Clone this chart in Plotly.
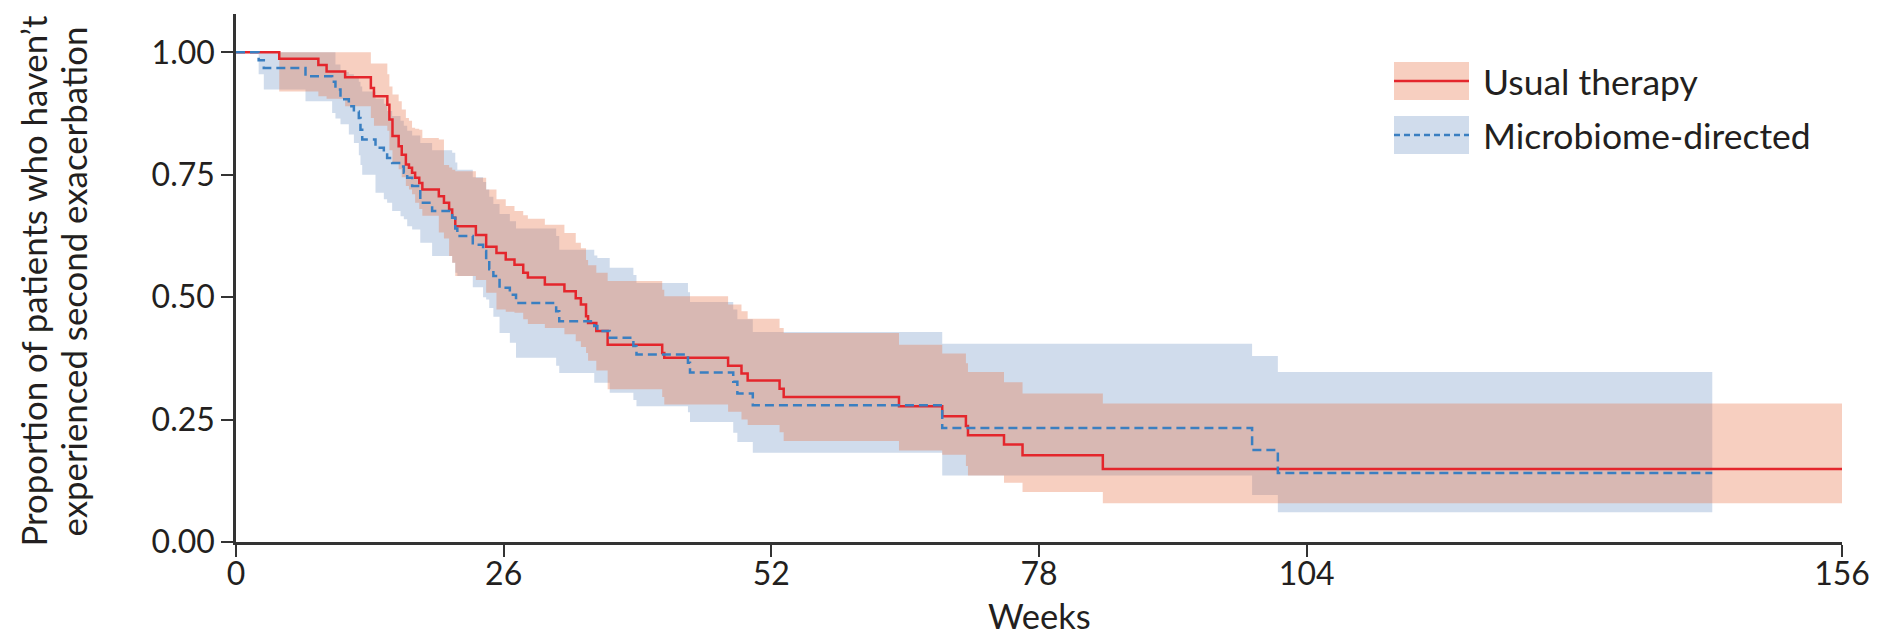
import plotly.graph_objects as go

# ---------------- data ----------------
usual_weeks = [0, 4.2, 8.0, 8.8, 10.6, 13.1, 13.4, 14.7, 14.9, 15.2, 15.8, 16.1, 16.5, 16.8, 17.1,
               17.4, 17.8, 18.1, 19.7, 20.2, 20.7, 21.0, 21.3, 23.3, 24.3, 25.3, 26.2, 27.05, 27.9,
               28.35, 30.0, 31.9, 33.0, 33.5, 34.0, 34.2, 35.0, 36.1, 41.4, 41.6, 47.8, 49.1, 49.7,
               52.8, 53.2, 64.4, 68.6, 70.9, 71.1, 74.6, 76.4, 84.2, 156]
usual_surv = [1.0, 0.987, 0.974, 0.961, 0.949, 0.927, 0.910, 0.893, 0.863, 0.829, 0.808, 0.791, 0.771,
              0.764, 0.754, 0.744, 0.733, 0.720, 0.706, 0.693, 0.679, 0.662, 0.645, 0.627, 0.603, 0.590,
              0.577, 0.566, 0.550, 0.540, 0.526, 0.512, 0.498, 0.485, 0.461, 0.447, 0.431, 0.403, 0.386,
              0.376, 0.360, 0.344, 0.330, 0.313, 0.296, 0.277, 0.257, 0.237, 0.218, 0.199, 0.177, 0.149,
              0.149]
usual_upper = [1.0, 1.0, 1.0, 1.0, 1.0, 0.977, 0.977, 0.955, 0.93, 0.914, 0.90, 0.883, 0.866, 0.86,
               0.846, 0.844, 0.842, 0.825, 0.822, 0.77, 0.765, 0.76, 0.757, 0.744, 0.72, 0.70, 0.686,
               0.676, 0.667, 0.66, 0.648, 0.631, 0.611, 0.60, 0.576, 0.565, 0.55, 0.533, 0.515, 0.502,
               0.485, 0.471, 0.456, 0.437, 0.427, 0.403, 0.385, 0.365, 0.347, 0.326, 0.303, 0.283, 0.283]
usual_lower = [1.0, 0.92, 0.91, 0.905, 0.89, 0.866, 0.85, 0.84, 0.80, 0.775, 0.761, 0.745, 0.727, 0.72,
               0.71, 0.693, 0.68, 0.666, 0.632, 0.62, 0.584, 0.57, 0.543, 0.535, 0.509, 0.475, 0.47,
               0.468, 0.455, 0.445, 0.437, 0.424, 0.41, 0.398, 0.386, 0.37, 0.35, 0.312, 0.296, 0.281,
               0.266, 0.25, 0.239, 0.224, 0.206, 0.187, 0.178, 0.155, 0.136, 0.121, 0.102, 0.079, 0.079]

micro_weeks = [0, 2.2, 2.7, 6.75, 9.34, 9.66, 10.15, 10.96, 11.45, 11.93, 12.09, 12.26, 13.55, 14.36,
               14.68, 15.17, 15.98, 16.30, 16.63, 17.11, 17.9, 19.05, 21.0, 21.3, 21.5, 23.0, 24.0, 24.3,
               24.6, 25.0, 25.6, 26.6, 27.2, 31.1, 31.4, 34.8, 35.1, 36.3, 38.6, 38.9, 43.9, 44.1, 48.3,
               48.7, 50.2, 68.6, 98.7, 101.2, 143.4]
micro_surv = [1.0, 0.984, 0.968, 0.951, 0.94, 0.924, 0.904, 0.890, 0.879, 0.866, 0.842, 0.822, 0.805,
              0.795, 0.784, 0.774, 0.767, 0.754, 0.744, 0.727, 0.693, 0.676, 0.662, 0.64, 0.625, 0.607,
              0.594, 0.574, 0.557, 0.543, 0.519, 0.505, 0.488, 0.471, 0.451, 0.441, 0.431, 0.417, 0.400,
              0.383, 0.366, 0.346, 0.327, 0.303, 0.279, 0.233, 0.188, 0.141, 0.141]
micro_upper = [1.0, 1.0, 1.0, 1.0, 1.0, 0.975, 0.96, 0.955, 0.95, 0.94, 0.93, 0.92, 0.905, 0.895, 0.88,
               0.87, 0.86, 0.85, 0.84, 0.83, 0.815, 0.80, 0.795, 0.775, 0.76, 0.745, 0.735, 0.72, 0.705,
               0.69, 0.67, 0.655, 0.64, 0.625, 0.597, 0.585, 0.58, 0.56, 0.545, 0.529, 0.51, 0.49, 0.475,
               0.455, 0.429, 0.405, 0.38, 0.347, 0.347]
micro_lower = [1.0, 0.955, 0.924, 0.90, 0.876, 0.865, 0.853, 0.832, 0.815, 0.79, 0.77, 0.75, 0.713, 0.70,
               0.693, 0.676, 0.665, 0.659, 0.645, 0.638, 0.611, 0.584, 0.57, 0.55, 0.543, 0.52, 0.50,
               0.495, 0.478, 0.46, 0.427, 0.407, 0.376, 0.36, 0.345, 0.325, 0.325, 0.305, 0.29, 0.277,
               0.265, 0.245, 0.223, 0.204, 0.182, 0.136, 0.096, 0.061, 0.061]

x_ticks = [0, 26, 52, 78, 104, 156]
y_ticks = [0, 0.25, 0.5, 0.75, 1.0]
y_tick_labels = ["0.00", "0.25", "0.50", "0.75", "1.00"]
series_names = ["Usual therapy", "Microbiome-directed"]
y_title_lines = ["Proportion of patients who haven’t", "experienced second exacerbation"]
x_title = "Weeks"

# ---------------- style ----------------
W, H = 1882, 638
L, R, T, B = 236, 40, 14, 96
FONT = "Lato"
TXT = "#231f20"
AX = "#333333"
RED = "#e4262c"
BLUE = "#3a7fc1"
RED_FILL = "rgba(232,118,75,0.35)"
BLUE_FILL = "rgb(208,220,236)"
FS_TICK = 32
FS_LEG = 35.5
FS_TITLE = 34.8

def px(xp):
    return (xp - L) / (W - L - R)

def py(yp):
    return (H - B - yp) / (H - T - B)

fig = go.Figure()
# microbiome band
fig.add_trace(go.Scatter(x=micro_weeks, y=micro_upper, mode="lines",
                         line=dict(width=0, shape="hv"), hoverinfo="skip", showlegend=False))
fig.add_trace(go.Scatter(x=micro_weeks, y=micro_lower, mode="lines",
                         line=dict(width=0, shape="hv"), fill="tonexty",
                         fillcolor=BLUE_FILL, hoverinfo="skip", showlegend=False))
# usual band
fig.add_trace(go.Scatter(x=usual_weeks, y=usual_upper, mode="lines",
                         line=dict(width=0, shape="hv"), hoverinfo="skip", showlegend=False))
fig.add_trace(go.Scatter(x=usual_weeks, y=usual_lower, mode="lines",
                         line=dict(width=0, shape="hv"), fill="tonexty",
                         fillcolor=RED_FILL, hoverinfo="skip", showlegend=False))
# survival lines
fig.add_trace(go.Scatter(x=usual_weeks, y=usual_surv, mode="lines", name=series_names[0],
                         line=dict(color=RED, width=2.5, shape="hv"), showlegend=False))
fig.add_trace(go.Scatter(x=micro_weeks, y=micro_surv, mode="lines", name=series_names[1],
                         line=dict(color=BLUE, width=2.5, shape="hv", dash="9px,5px"),
                         showlegend=False))

# manual legend
leg_x0, leg_x1 = 1394, 1469
rows = [(62, 100, RED_FILL, RED, "solid"), (116, 154, BLUE_FILL, BLUE, "dash")]
shapes = []
annotations = []
for (y0, y1, fc, lc, dash), name in zip(rows, series_names):
    shapes.append(dict(type="rect", xref="paper", yref="paper",
                       x0=px(leg_x0), x1=px(leg_x1), y0=py(y1), y1=py(y0),
                       fillcolor=fc, line=dict(width=0), layer="above"))
    ym = (y0 + y1) / 2
    shapes.append(dict(type="line", xref="paper", yref="paper",
                       x0=px(leg_x0), x1=px(leg_x1), y0=py(ym), y1=py(ym),
                       line=dict(color=lc, width=2.5, dash=("6px,4px" if dash == "dash" else "solid")),
                       layer="above"))
    annotations.append(dict(text=name, xref="paper", yref="paper", x=px(1481), y=py(ym),
                            xanchor="left", yanchor="middle", showarrow=False,
                            font=dict(family=FONT, size=FS_LEG, color=TXT)))

# y-axis title, two lines
for line_text, cx in zip(y_title_lines, [33.6, 74.4]):
    annotations.append(dict(text=line_text, xref="paper", yref="paper", x=px(cx), y=py(281),
                            textangle=-90, xanchor="center", yanchor="middle", showarrow=False,
                            font=dict(family=FONT, size=FS_TITLE, color=TXT)))
annotations.append(dict(text=x_title, xref="paper", yref="paper", x=0.5, y=py(637.5),
                        xanchor="center", yanchor="bottom", showarrow=False,
                        font=dict(family=FONT, size=34.5, color=TXT)))

fig.update_layout(
    width=W, height=H,
    margin=dict(l=L, r=R, t=T, b=B, pad=0),
    paper_bgcolor="white", plot_bgcolor="white",
    shapes=shapes, annotations=annotations,
    showlegend=False,
    xaxis=dict(range=[0, 156], tickvals=x_ticks, ticks="outside", ticklen=12, tickwidth=2,
               tickcolor=AX, showline=True, linecolor=AX, linewidth=2.5, showgrid=False,
               zeroline=False, ticklabelstandoff=-10,
               tickfont=dict(family=FONT, size=FS_TICK, color=TXT)),
    yaxis=dict(range=[0, (H - T - B) / 489.7], tickvals=y_ticks, ticktext=y_tick_labels,
               ticks="outside", ticklen=12, tickwidth=2, tickcolor=AX, showline=True,
               linecolor=AX, linewidth=2.5, showgrid=False, zeroline=False,
               tickfont=dict(family=FONT, size=FS_TICK, color=TXT)),
)

fig.write_html("out.html")
